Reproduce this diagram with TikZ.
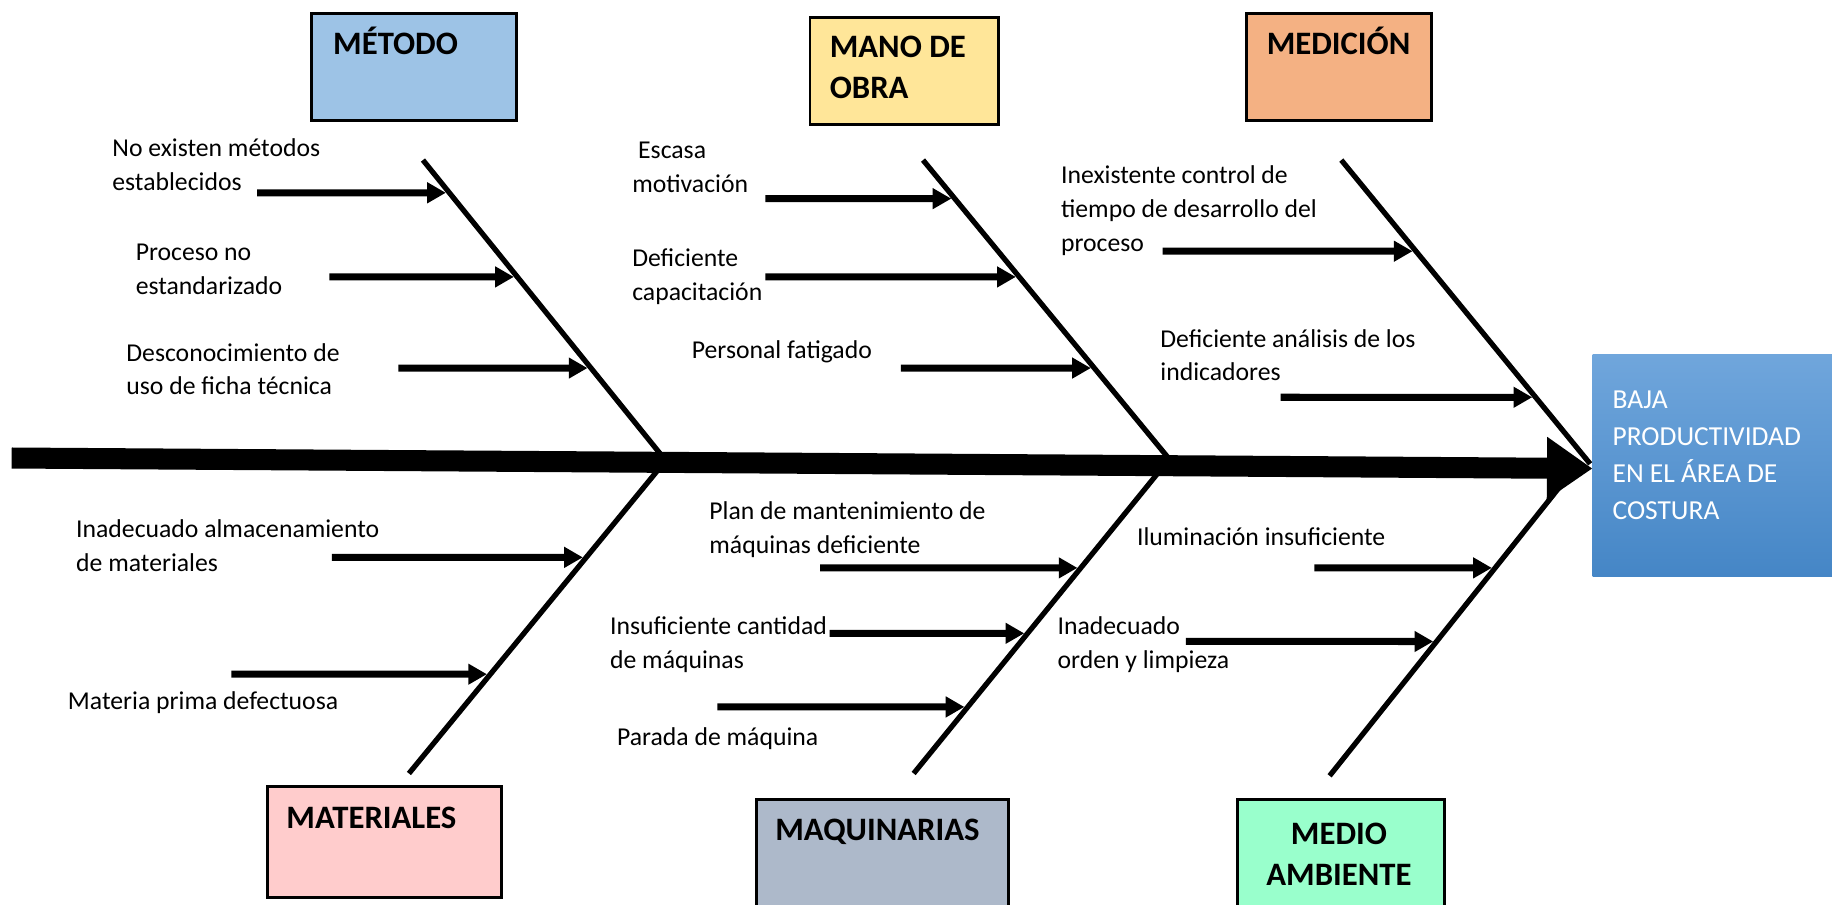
\documentclass[tikz,border=0pt]{standalone}
\usepackage{fontspec}
\setmainfont{Carlito}
\usetikzlibrary{arrows.meta}

\definecolor{cMetodo}{HTML}{9DC3E6}
\definecolor{cMano}{HTML}{FFE699}
\definecolor{cMedicion}{HTML}{F4B183}
\definecolor{cMateriales}{HTML}{FFCCCC}
\definecolor{cMaquinas}{HTML}{ADB9CA}
\definecolor{cAmbiente}{HTML}{99FFCC}
\definecolor{effTop}{HTML}{70A6DC}
\definecolor{effBot}{HTML}{4586C6}

\begin{document}
\begin{tikzpicture}[x=1pt,y=-1pt,
  catbox/.style={draw=black, line width=2.5pt, anchor=north west, inner sep=0pt},
  cattext/.style={font=\fontsize{28}{35}\selectfont\bfseries, inner sep=0pt},
  cause/.style={font=\fontsize{22}{29}\selectfont, anchor=base west, align=left, inner sep=0pt},
  bone/.style={line width=4.5pt},
  causearrow/.style={line width=6pt, shorten >=3pt, -{Triangle[length=16pt,width=17pt]}},
  spine/.style={line width=18pt, -{Triangle[length=39pt,width=51pt]}}]

\useasboundingbox (0,0) rectangle (1568,774);

% category boxes
\node[catbox, fill=cMetodo, minimum width=176pt, minimum height=92pt] (metodo) at (265,10) {};
\node[catbox, fill=cMano, minimum width=161pt, minimum height=91pt] (mano) at (692,14) {};
\node[catbox, fill=cMedicion, minimum width=158pt, minimum height=92pt] (medicion) at (1066,10) {};
\node[catbox, fill=cMateriales, minimum width=200pt, minimum height=95pt] (materiales) at (228,672) {};
\node[catbox, fill=cMaquinas, minimum width=216pt, minimum height=100pt] (maquinas) at (646,683) {};
\node[catbox, fill=cAmbiente, minimum width=177pt, minimum height=100pt] (ambiente) at (1058,683) {};

% titles (base anchor of a multi-line node is its last line)
\node[cattext, anchor=base west] (metodoT) at (285,47) {MÉTODO};
\node[cattext, anchor=base west, align=left] (manoT) at (710,84) {MANO DE\\OBRA};
\node[cattext, anchor=base west] (medicionT) at (1084,47) {MEDICIÓN};
\node[cattext, anchor=base west] (materialesT) at (245,709) {MATERIALES};
\node[cattext, anchor=base] (maquinasT) at (751,719) {MAQUINARIAS};
\node[cattext, anchor=base, align=center] (ambienteT) at (1146,758) {MEDIO\\AMBIENTE};

% effect box
\node[anchor=north west, inner sep=0pt, minimum width=205pt, minimum height=190pt,
      top color=effTop, bottom color=effBot] (effect) at (1363,303) {};
\node[font=\fontsize{23.5}{31.7}\selectfont, text=white, anchor=base west, align=left, inner sep=0pt]
  (effectT) at (1380,445) {BAJA\\PRODUCTIVIDAD\\EN EL ÁREA DE\\COSTURA};

% spine
\coordinate (tail) at (10,392);
\coordinate (head) at (1363,401);
\draw[spine] (tail) -- (head);

% bones
\coordinate (b1s) at (362,137);  \coordinate (b1e) at (568,392);
\coordinate (b2s) at (790,137);  \coordinate (b2e) at (1000,392);
\coordinate (b3s) at (1148,137); \coordinate (b3e) at (1361,397);
\coordinate (b4s) at (565,400);  \coordinate (b4e) at (350,662);
\coordinate (b5s) at (995,400);  \coordinate (b5e) at (782,662);
\coordinate (b6s) at (1345,404); \coordinate (b6e) at (1138,664);
\foreach \b in {1,...,6} \draw[bone] (b\b s) -- (b\b e);

% cause labels (positioned by the baseline of their last line)
\node[cause] (m1) at (96,163) {No existen métodos\\establecidos};
\node[cause] (m2) at (116,252) {Proceso no\\estandarizado};
\node[cause] (m3) at (108,338) {Desconocimiento de\\uso de ficha técnica};
\node[cause] (o1) at (541,165) {\hspace*{5pt}Escasa\\motivación};
\node[cause] (o2) at (541,257) {Deficiente\\capacitación};
\node[cause] (o3) at (592,307) {Personal fatigado};
\node[cause] (d1) at (908,215) {Inexistente control de\\tiempo de desarrollo del\\proceso};
\node[cause] (d2) at (993,326) {Deficiente análisis de los\\indicadores};
\node[cause] (a1) at (65,489) {Inadecuado almacenamiento\\de materiales};
\node[cause] (a2) at (58,607) {Materia prima defectuosa};
\node[cause] (q1) at (607,474) {Plan de mantenimiento de\\máquinas deficiente};
\node[cause] (q2) at (522,572) {Insuficiente cantidad\\de máquinas};
\node[cause] (q3) at (528,638) {Parada de máquina};
\node[cause] (e1) at (973,467) {Iluminación insuficiente};
\node[cause] (e2) at (905,572) {Inadecuado\\orden y limpieza};

% cause arrows: start points, tips land on the bones
\coordinate (m1s) at (220,165);  \coordinate (m1r) at (700,165);
\coordinate (m2s) at (282,237);  \coordinate (m2r) at (700,237);
\coordinate (m3s) at (341,315);  \coordinate (m3r) at (700,315);
\coordinate (o1s) at (655,170);  \coordinate (o1r) at (1100,170);
\coordinate (o2s) at (655,237);  \coordinate (o2r) at (1100,237);
\coordinate (o3s) at (771,315);  \coordinate (o3r) at (1100,315);
\coordinate (d1s) at (995,215);  \coordinate (d1r) at (1450,215);
\coordinate (d2s) at (1096,340); \coordinate (d2r) at (1450,340);
\coordinate (a1s) at (284,477);  \coordinate (a1r) at (700,477);
\coordinate (a2s) at (198,577);  \coordinate (a2r) at (700,577);
\coordinate (q1s) at (702,486);  \coordinate (q1r) at (1100,486);
\coordinate (q2s) at (710,542);  \coordinate (q2r) at (1100,542);
\coordinate (q3s) at (614,605);  \coordinate (q3r) at (1100,605);
\coordinate (e1s) at (1125,486); \coordinate (e1r) at (1450,486);
\coordinate (e2s) at (1015,549); \coordinate (e2r) at (1450,549);

\draw[causearrow] (m1s) -- (intersection of m1s--m1r and b1s--b1e);
\draw[causearrow] (m2s) -- (intersection of m2s--m2r and b1s--b1e);
\draw[causearrow] (m3s) -- (intersection of m3s--m3r and b1s--b1e);
\draw[causearrow] (o1s) -- (intersection of o1s--o1r and b2s--b2e);
\draw[causearrow] (o2s) -- (intersection of o2s--o2r and b2s--b2e);
\draw[causearrow] (o3s) -- (intersection of o3s--o3r and b2s--b2e);
\draw[causearrow] (d1s) -- (intersection of d1s--d1r and b3s--b3e);
\draw[causearrow] (d2s) -- (intersection of d2s--d2r and b3s--b3e);
\draw[causearrow] (a1s) -- (intersection of a1s--a1r and b4s--b4e);
\draw[causearrow] (a2s) -- (intersection of a2s--a2r and b4s--b4e);
\draw[causearrow] (q1s) -- (intersection of q1s--q1r and b5s--b5e);
\draw[causearrow] (q2s) -- (intersection of q2s--q2r and b5s--b5e);
\draw[causearrow] (q3s) -- (intersection of q3s--q3r and b5s--b5e);
\draw[causearrow] (e1s) -- (intersection of e1s--e1r and b6s--b6e);
\draw[causearrow] (e2s) -- (intersection of e2s--e2r and b6s--b6e);
\end{tikzpicture}
\end{document}
